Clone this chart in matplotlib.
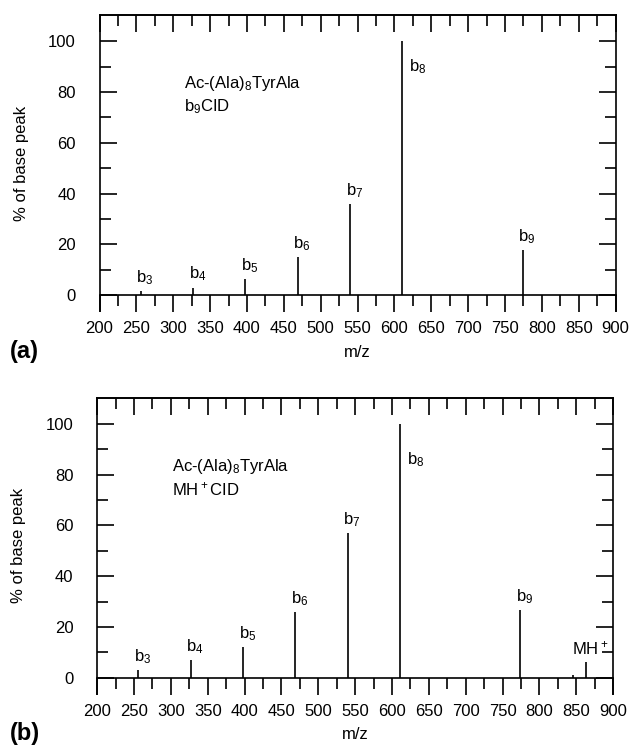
import matplotlib
matplotlib.use('Agg')
import matplotlib.pyplot as plt
from matplotlib.ticker import MultipleLocator, FixedLocator

# íons b de Ac-(Ala)8TyrAla (m/z)
mz_b = [256, 327, 398, 469, 540, 611, 774]
rotulos_b = ['b$_3$', 'b$_4$', 'b$_5$', 'b$_6$', 'b$_7$', 'b$_8$', 'b$_9$']

# (a) CID do íon b9
int_a = [1.6, 2.9, 6.3, 15.1, 35.8, 100, 17.8]

# (b) CID do MH+
int_b = [3.0, 7.0, 12.1, 26.0, 56.9, 100, 26.6]
mz_extra_b = [846, 863]
int_extra_b = [1.0, 6.2]
rotulos_extra_b = ['', 'MH$^+$']

x_ticks = list(range(200, 901, 50))
y_ticks = [0, 20, 40, 60, 80, 100]

plt.rcParams['font.family'] = ['Liberation Sans', 'DejaVu Sans']
plt.rcParams['mathtext.default'] = 'regular'
plt.rcParams['font.size'] = 12


def painel(ax, mz, inten, rotulos, titulo1, titulo2, pos_titulo, y_b8):
    ax.vlines(mz, 0, inten, color='black', lw=1.2)

    for x, y, r in zip(mz, inten, rotulos):
        if r == '':
            continue
        if r == 'b$_8$':
            # rótulo do pico base fica à direita do pico
            ax.text(x + 9, y_b8, r, ha='left', va='center', fontsize=12)
        elif r == 'MH$^+$':
            ax.annotate(r, (x, y), xytext=(3, 3), textcoords='offset points',
                        ha='center', va='bottom', fontsize=12)
        else:
            ax.annotate(r, (x, y), xytext=(3, 3), textcoords='offset points',
                        ha='center', va='bottom', fontsize=12)

    ax.text(pos_titulo, 83.2, titulo1, ha='left', va='center', fontsize=12)
    ax.text(pos_titulo, 74.2, titulo2, ha='left', va='center', fontsize=12)

    ax.set_xlim(200, 900)
    ax.set_ylim(-6.4, 110.3)

    # eixo x no zero, com marcas para fora (para baixo)
    ax.spines['bottom'].set_position(('data', 0))
    for s in ax.spines.values():
        s.set_linewidth(1.2)

    ax.xaxis.set_major_locator(FixedLocator(x_ticks))
    ax.xaxis.set_minor_locator(MultipleLocator(25))
    ax.tick_params(axis='x', which='major', direction='out', length=12,
                   width=1.2, pad=7, labelsize=12, top=False)
    ax.tick_params(axis='x', which='minor', direction='out', length=8,
                   width=1.2, top=False)

    ax.yaxis.set_major_locator(FixedLocator(y_ticks))
    ax.yaxis.set_minor_locator(FixedLocator([10, 30, 50, 70, 90]))
    ax.tick_params(axis='y', which='major', direction='in', length=12,
                   width=1.2, pad=17, labelsize=12, left=True, right=True)
    ax.tick_params(axis='y', which='minor', direction='in', length=8,
                   width=1.2, left=True, right=True)

    # marcas do topo apontando para dentro
    topo = ax.secondary_xaxis('top')
    topo.xaxis.set_major_locator(FixedLocator(x_ticks))
    topo.xaxis.set_minor_locator(MultipleLocator(25))
    topo.tick_params(which='major', direction='in', length=12, width=1.2,
                     labeltop=False)
    topo.tick_params(which='minor', direction='in', length=8, width=1.2)
    topo.spines['top'].set_linewidth(1.2)

    ax.set_xlabel('m/z', fontsize=12, labelpad=6)
    ax.set_ylabel('% of base peak', fontsize=12, labelpad=14)


fig = plt.figure(figsize=(6.3, 7.46), dpi=100)

ax_a = fig.add_axes([0.158, 0.5828, 0.819, 0.3968])
painel(ax_a, mz_b, int_a, rotulos_b,
       'Ac-(Ala)$_8$TyrAla', 'b$_9$CID', 315, 90)

ax_b = fig.add_axes([0.1543, 0.0699, 0.819, 0.3968])
painel(ax_b, mz_b + mz_extra_b, int_b + int_extra_b, rotulos_b + rotulos_extra_b,
       'Ac-(Ala)$_8$TyrAla', 'MH$^+$CID', 302, 86)

fig.text(0.016, 0.529, '(a)', fontsize=17, fontweight='bold', va='center', ha='left')
fig.text(0.016, 0.0174, '(b)', fontsize=17, fontweight='bold', va='center', ha='left')

fig.savefig('out.png', dpi=100)
